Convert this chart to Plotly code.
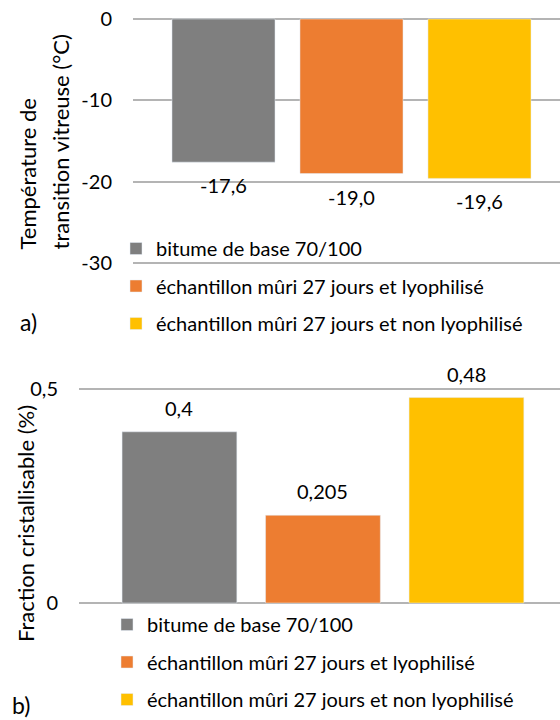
import plotly.graph_objects as go

series_names = [
    "bitume de base 70/100",
    "échantillon mûri 27 jours et lyophilisé",
    "échantillon mûri 27 jours et non lyophilisé",
]
colors = ["#7F7F7F", "#ED7D31", "#FFC000"]

tg_values = [-17.6, -19.0, -19.6]
tg_labels = ["-17,6", "-19,0", "-19,6"]
tg_tickvals = [0, -10, -20, -30]
tg_ticktext = ["0", "-10", "-20", "-30"]

frac_values = [0.4, 0.205, 0.48]
frac_labels = ["0,4", "0,205", "0,48"]
frac_tickvals = [0, 0.5]
frac_ticktext = ["0", "0,5"]

FONT = "Lato"
FS = 20
FT = 22
W, H = 560, 720


def px(x):
    return x / W


def py(y):
    return 1 - y / H


fig = go.Figure()

for i, name in enumerate(series_names):
    fig.add_trace(go.Bar(
        x=[i], y=[tg_values[i]], name=name, marker_color=colors[i],
        width=0.805, xaxis="x", yaxis="y", legend="legend",
        legendgroup="a%d" % i, showlegend=True,
    ))
    fig.add_trace(go.Bar(
        x=[i], y=[frac_values[i]], name=name, marker_color=colors[i],
        width=0.80, xaxis="x2", yaxis="y2", legend="legend2",
        legendgroup="b%d" % i, showlegend=True,
    ))

annotations = []
for i in range(3):
    annotations.append(dict(x=i, y=tg_values[i], xref="x", yref="y", text=tg_labels[i],
                            showarrow=False, yshift=-23, font=dict(size=FS, color="black")))
    annotations.append(dict(x=i, y=frac_values[i], xref="x2", yref="y2", text=frac_labels[i],
                            showarrow=False, yshift=24, font=dict(size=FS, color="black")))

annotations += [
    dict(x=px(27), y=py(252), xref="paper", yref="paper", text="Température de",
         textangle=-90, showarrow=False, font=dict(size=FT, color="black"), xanchor="center", yanchor="bottom"),
    dict(x=px(60), y=py(252), xref="paper", yref="paper", text="transition vitreuse (°C)",
         textangle=-90, showarrow=False, font=dict(size=FT, color="black"), xanchor="center", yanchor="bottom"),
    dict(x=px(25), y=py(524), xref="paper", yref="paper", text="Fraction cristallisable (%)",
         textangle=-90, showarrow=False, font=dict(size=FT, color="black"), xanchor="center", yanchor="middle"),
    dict(x=px(28), y=py(322), xref="paper", yref="paper", text="a)",
         showarrow=False, font=dict(size=23, color="black"), xanchor="center", yanchor="middle"),
    dict(x=px(21), y=py(705), xref="paper", yref="paper", text="b)",
         showarrow=False, font=dict(size=23, color="black"), xanchor="center", yanchor="middle"),
]

# top axis: 0 -> y=19px, -30 -> y=263px ; pad range by 0.5 unit (about 4px)
k1 = (263 - 19) / 30.0
pad1 = 0.5
# bottom axis: 0 -> y=603px, 0.5 -> y=389px ; pad range by 0.01 unit (about 4px)
k2 = (603 - 389) / 0.5
pad2 = 0.01

grid = "#B4B4B4"
fig.update_layout(
    width=W, height=H,
    margin=dict(l=0, r=0, t=0, b=0, autoexpand=False),
    paper_bgcolor="white", plot_bgcolor="white",
    font=dict(family=FONT, size=FS, color="black"),
    barmode="overlay",
    xaxis=dict(domain=[px(133), 1], range=[-0.707, 2.629], showticklabels=False, showgrid=False,
               zeroline=False, anchor="y", automargin=False),
    yaxis=dict(domain=[py(263 + pad1 * k1), py(19 - pad1 * k1)], range=[-30 - pad1, 0 + pad1],
               tickvals=tg_tickvals, ticktext=tg_ticktext, showgrid=True, gridcolor=grid, gridwidth=1.5,
               zeroline=False, ticks="", ticklabelstandoff=20, ticklabeloverflow="allow",
               anchor="x", automargin=False),
    xaxis2=dict(domain=[px(79), 1], range=[-0.700, 2.652], showticklabels=False, showgrid=False,
                zeroline=False, anchor="y2", automargin=False),
    yaxis2=dict(domain=[py(603 + pad2 * k2), py(389 - pad2 * k2)], range=[0 - pad2, 0.5 + pad2],
                tickvals=frac_tickvals, ticktext=frac_ticktext, showgrid=True, gridcolor=grid, gridwidth=1.5,
                zeroline=False, ticks="", ticklabelstandoff=20, ticklabeloverflow="allow",
                anchor="x2", automargin=False),
    legend=dict(x=px(137 - 21), y=py(229), xanchor="left", yanchor="top",
                bgcolor="rgba(0,0,0,0)", traceorder="grouped", tracegroupgap=8.5,
                font=dict(size=FS, color="black")),
    legend2=dict(x=px(128 - 21), y=py(605), xanchor="left", yanchor="top",
                 bgcolor="rgba(0,0,0,0)", traceorder="grouped", tracegroupgap=8.5,
                 font=dict(size=FS, color="black")),
    annotations=annotations,
    showlegend=True,
    hovermode=False,
)

# remove the default 8px page margin so the 560x720 figure fills the window exactly
fig.write_html(
    "out.html",
    config={"displayModeBar": False},
    post_script="document.body.style.margin='0';document.body.style.overflow='hidden';",
)
